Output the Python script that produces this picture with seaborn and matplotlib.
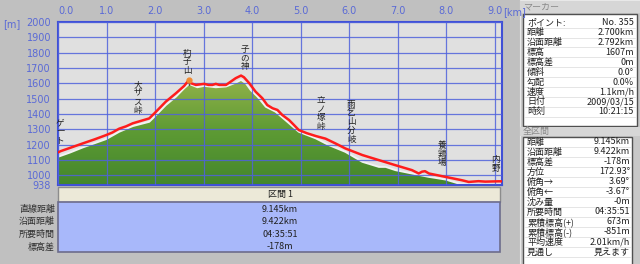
import numpy as np
import matplotlib
matplotlib.use("Agg")
import matplotlib.pyplot as plt
import seaborn as sns
from matplotlib.patches import Rectangle
from matplotlib.colors import LinearSegmentedColormap

# ---------------- data ----------------
red_km = [0.00, 0.05, 0.25, 0.51, 0.75, 0.99, 1.12, 1.26, 1.40, 1.54, 1.70, 1.88,
          2.02, 2.22, 2.43, 2.60, 2.67, 2.74, 2.84, 3.01, 3.10, 3.18, 3.25, 3.32,
          3.46, 3.56, 3.66, 3.77, 3.83, 3.94, 4.07, 4.21, 4.31, 4.42, 4.52, 4.62,
          4.76, 4.86, 4.96, 5.13, 5.31, 5.51, 5.72, 5.92, 6.27, 6.61, 6.95, 7.29,
          7.43, 7.50, 7.56, 7.64, 7.98, 8.32, 8.46, 8.66, 8.80, 9.07, 9.145]
red_elev = [1150, 1158, 1180, 1209, 1235, 1263, 1280, 1305, 1320, 1340, 1355, 1372,
            1416, 1481, 1536, 1584, 1612, 1601, 1590, 1597, 1590, 1590, 1597, 1590,
            1590, 1612, 1634, 1651, 1640, 1601, 1546, 1503, 1459, 1438, 1427, 1394,
            1361, 1329, 1296, 1275, 1257, 1240, 1208, 1176, 1133, 1100, 1067, 1035,
            1013, 1025, 1028, 1013, 991, 969, 958, 963, 960, 962, 962]

dem_km = [0.0, 0.25, 0.51, 0.75, 0.99, 1.26, 1.54, 1.88, 2.02, 2.22, 2.43, 2.60,
          2.70, 2.87, 3.01, 3.25, 3.46, 3.66, 3.77, 3.87, 3.97, 4.11, 4.28, 4.48,
          4.76, 4.96, 5.31, 5.58, 5.92, 6.27, 6.61, 6.75, 6.95, 7.29, 7.64, 7.98,
          8.25, 8.46, 8.80, 9.145]
dem_elev = [1122, 1150, 1183, 1210, 1237, 1285, 1322, 1350, 1394, 1459, 1514, 1569,
            1597, 1575, 1584, 1575, 1580, 1605, 1623, 1601, 1557, 1514, 1448, 1416,
            1340, 1285, 1242, 1198, 1154, 1089, 1056, 1056, 1035, 1013, 991, 974,
            948, 940, 939, 940]

x_ticks = [0, 1, 2, 3, 4, 5, 6, 7, 8, 9]
x_labels = ["0.0", "1.0", "2.0", "3.0", "4.0", "5.0", "6.0", "7.0", "8.0", "9.0"]
y_ticks = [938, 1000, 1100, 1200, 1300, 1400, 1500, 1600, 1700, 1800, 1900, 2000]
y_labels = ["938", "1000", "1100", "1200", "1300", "1400", "1500", "1600", "1700", "1800", "1900", "2000"]

places = ["ゲート", "大ザス峠", "杓子山", "子の神", "立ノ塚峠", "雨乞山分岐", "養鶏場", "内野"]
place_km = [0.04, 1.64, 2.66, 3.85, 5.42, 6.04, 7.90, 9.02]
place_elev = [1286, 1508, 1740, 1767, 1404, 1352, 1139, 1074]

summary_labels = ["直線距離", "沿面距離", "所要時間", "標高差"]
summary_values = ["9.145km", "9.422km", "04:35:51", "-178m"]

marker_labels = ["ポイント:", "距離", "沿面距離", "標高", "標高差", "傾斜", "勾配", "速度", "日付", "時刻"]
marker_values = ["No. 355", "2.700km", "2.792km", "1607m", "0m", "0.0°", "0.0%", "1.1km/h", "2009/03/15", "10:21:15"]

total_labels = ["距離", "沿面距離", "標高差", "方位", "俯角→", "俯角←", "沈み量", "所要時間",
                "累積標高(+)", "累積標高(-)", "平均速度", "見通し"]
total_values = ["9.145km", "9.422km", "-178m", "172.93°", "3.69°", "-3.67°", "-0m", "04:35:51",
                "673m", "-851m", "2.01km/h", "見えます"]

marker_km, marker_elev = 2.70, 1607

# ---------------- style ----------------
sns.set_theme(style="white")
plt.rcParams['font.family'] = ['Noto Sans CJK JP', 'DejaVu Sans']

W, H = 640, 264
fig = plt.figure(figsize=(6.4, 2.64), dpi=100, facecolor='#c0c0c0')

def fx(px):
    return px / W

def fy(py):
    return 1 - py / H

BLUE = '#5a6ad6'
TXT = '#202020'

# overlay for panels
ov = fig.add_axes([0, 0, 1, 1])
ov.set_zorder(1)
ov.set_xlim(0, W)
ov.set_ylim(H, 0)
ov.axis('off')

# main profile axes
ax = fig.add_axes([fx(58), fy(185), fx(502) - fx(58), fy(22) - fy(185)])
ax.set_zorder(2)
ax.set_facecolor('#e0e0e0')

cmap = LinearSegmentedColormap.from_list('g', ['#44872c', '#5e9b34', '#96b44c'])
grad = np.linspace(0, 1, 256).reshape(-1, 1)
im = ax.imshow(grad, extent=[0, 9.145, 938, 1660], origin='lower', aspect='auto',
               cmap=cmap, zorder=1, interpolation='bilinear')
poly = ax.fill_between(dem_km, dem_elev, 938, facecolor='none', edgecolor='none')
im.set_clip_path(poly.get_paths()[0], transform=ax.transData)

sns.lineplot(x=dem_km, y=dem_elev, ax=ax, color='#f2f2f2', lw=1.4, zorder=2,
             sort=False, estimator=None)
sns.lineplot(x=red_km, y=red_elev, ax=ax, color='#ff1c1c', lw=1.8, zorder=4,
             sort=False, estimator=None)

ax.set_xlim(0, 9.145)
ax.set_ylim(938, 2000)
ax.set_xticks(x_ticks)
ax.set_xticklabels(x_labels, family='DejaVu Sans')
ax.set_yticks(y_ticks)
ax.set_yticklabels(y_labels, family='DejaVu Sans')
ax.xaxis.tick_top()
ax.tick_params(axis='both', length=0, colors=BLUE, labelsize=7)
ax.tick_params(axis='x', pad=4)
ax.tick_params(axis='y', pad=5)
ax.get_xticklabels()[0].set_horizontalalignment('left')
ax.set_axisbelow(False)
ax.grid(True, color='#5062dc', lw=0.9, alpha=0.85)
for s in ax.spines.values():
    s.set_color('#4050d6')
    s.set_linewidth(1.5)
    s.set_visible(True)

# marker icon at 杓子山
ax.plot([marker_km, marker_km], [marker_elev - 15, marker_elev + 10], color='#555555', lw=1.0, zorder=5)
ax.plot([marker_km], [marker_elev + 18], marker='o', ms=3.5, color='#f08a30', zorder=6)

# vertical place labels
sp = 6.2  # points between stacked characters
for name, km, el in zip(places, place_km, place_elev):
    n = len(name)
    for i, ch in enumerate(name):
        ax.annotate(ch, (km, el), xytext=(0, ((n - 1) / 2 - i) * sp), textcoords='offset points',
                    ha='center', va='center', fontsize=6.2, color=TXT, zorder=7,
                    annotation_clip=False)

ov.text(3, 24, "[m]", ha='left', va='center', fontsize=7, color=BLUE, family='DejaVu Sans')
ov.text(503, 12, "[km]", ha='left', va='center', fontsize=7, color=BLUE, family='DejaVu Sans')

# summary block below the chart
ov.add_patch(Rectangle((58, 186.5), 442, 15.5, fc='#ece9d8', ec='#8c8c8c', lw=1))
ov.add_patch(Rectangle((58, 202), 442, 50, fc='#a8b8fa', ec='#6c6c8c', lw=1.2))
ov.text(280, 194.5, "区間 1", ha='center', va='center', fontsize=6.5, color=TXT)
for i, (lab, val) in enumerate(zip(summary_labels, summary_values)):
    yy = 209 + i * 12.6
    ov.text(55, yy, lab, ha='right', va='center', fontsize=6.5, color='#303030')
    ov.text(280, yy, val, ha='center', va='center', fontsize=6.5, color=TXT)

# right panel
ov.add_patch(Rectangle((519.5, 0), 121, 264, fc='#c8c8c8', ec='#e8e8e8', lw=0.8))
ov.add_patch(Rectangle((520, 1), 120, 12, fc='#d6d6d6', ec='none'))
ov.text(523, 7, "マーカー", ha='left', va='center', fontsize=6.5, color='#8a8a8a')
ov.add_patch(Rectangle((523, 14), 114, 112, fc='white', ec='#505050', lw=1))
for i, (lab, val) in enumerate(zip(marker_labels, marker_values)):
    yy = 22.7 + i * 9.9
    ov.text(527, yy, lab, ha='left', va='center', fontsize=6.5, color=TXT)
    ov.text(634, yy, val, ha='right', va='center', fontsize=6.5, color=TXT)
    ov.plot([525, 635], [yy + 4.9, yy + 4.9], color='#e0e0e0', lw=0.6)

ov.add_patch(Rectangle((520, 127), 120, 9, fc='#d6d6d6', ec='none'))
ov.text(523, 131.5, "全区間", ha='left', va='center', fontsize=6.5, color='#8a8a8a')
ov.add_patch(Rectangle((523, 137), 109, 128, fc='white', ec='#505050', lw=1))
for i, (lab, val) in enumerate(zip(total_labels, total_values)):
    yy = 142 + i * 10
    ov.text(527, yy, lab, ha='left', va='center', fontsize=6.5, color=TXT)
    ov.text(630, yy, val, ha='right', va='center', fontsize=6.5, color=TXT)
    ov.plot([525, 630], [yy + 5, yy + 5], color='#e0e0e0', lw=0.6)

fig.savefig("out.png", dpi=100, facecolor=fig.get_facecolor())
